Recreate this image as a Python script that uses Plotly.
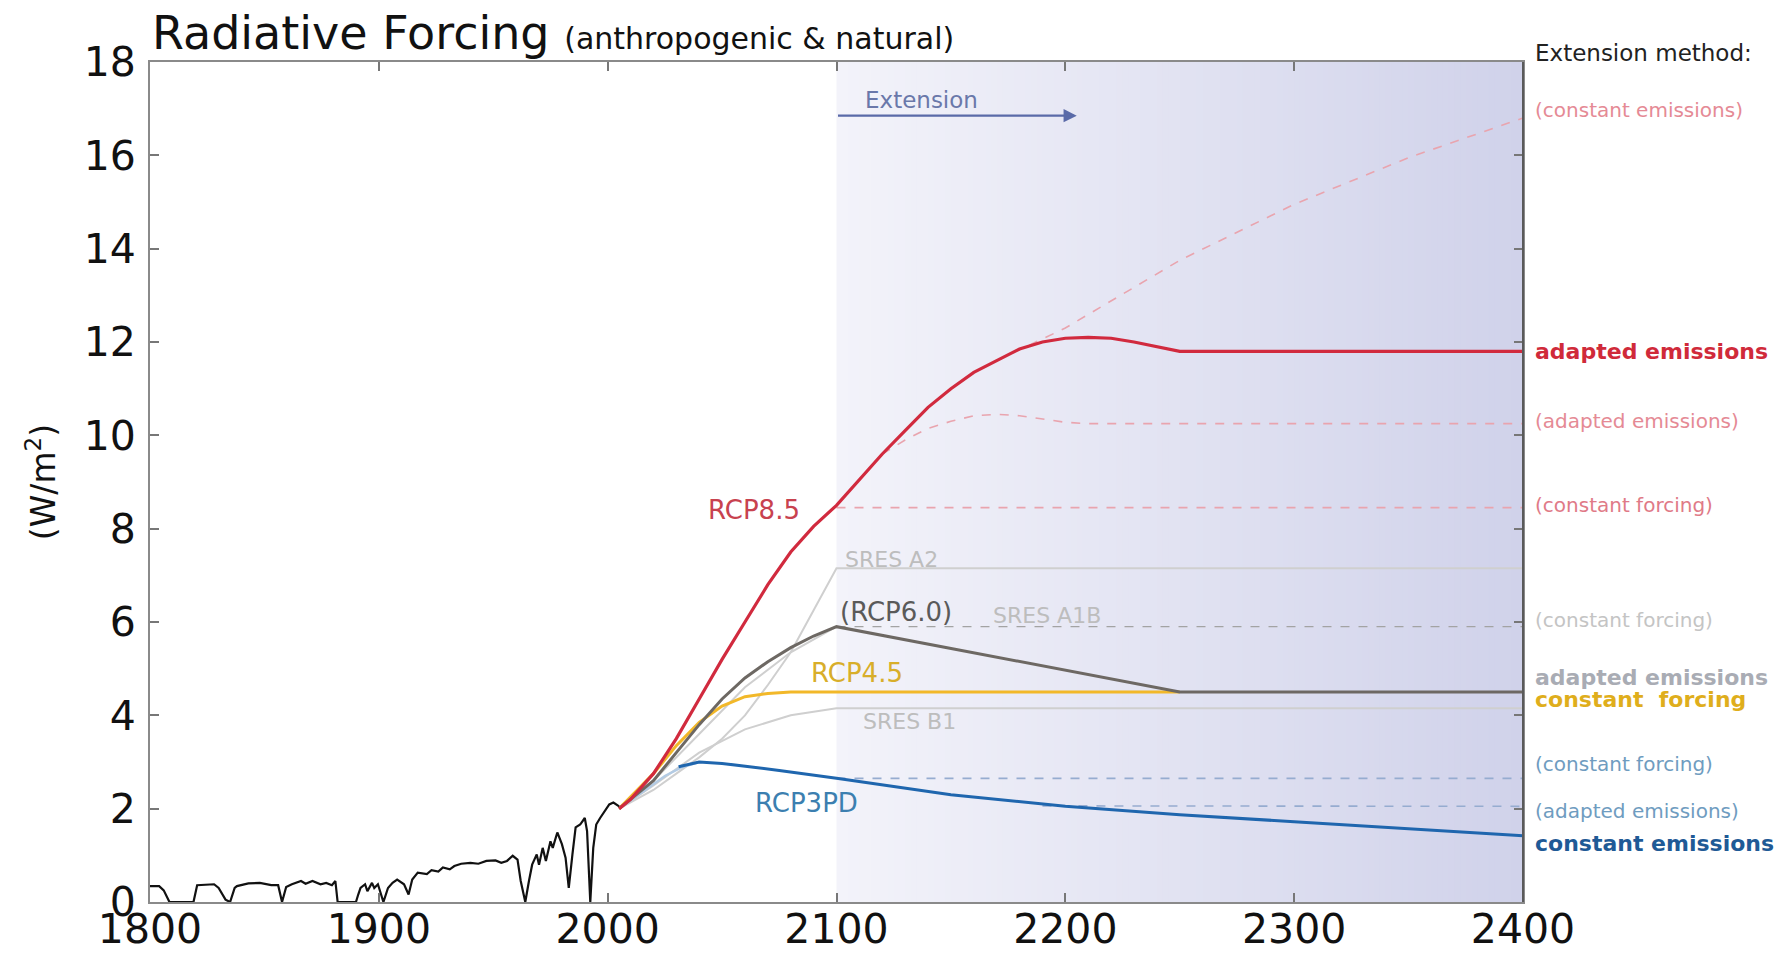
import plotly.graph_objects as go

# ---------------- data ----------------
hist_years = [1800, 1804, 1806, 1808.5, 1819, 1820.6, 1828, 1830, 1833, 1835, 1837, 1838, 1843, 1848, 1853,
              1856, 1857.7, 1859.5, 1862, 1866, 1868, 1871, 1874.5, 1877, 1879.5, 1881, 1882, 1890, 1891,
              1892, 1894, 1895, 1897, 1898, 1899.6, 1901, 1902, 1904, 1906, 1908, 1911, 1913, 1914.6, 1917,
              1921, 1923, 1926, 1928, 1931, 1933, 1936, 1940, 1943.5, 1947, 1951, 1953.5, 1956, 1958.5,
              1960.6, 1962, 1964, 1965.6, 1967, 1969, 1970, 1971.6, 1973, 1975, 1976, 1978, 1980, 1981.6,
              1983, 1984.6, 1986, 1988, 1990, 1991, 1992.4, 1993.7, 1995, 1996.7, 1998.7, 2000.7, 2002.5,
              2005]
hist_values = [0.34, 0.34, 0.25, 0.0, 0.0, 0.36, 0.38, 0.3, 0.05, 0.0, 0.3, 0.34, 0.4, 0.41, 0.36,
               0.36, 0.0, 0.32, 0.38, 0.45, 0.39, 0.45, 0.38, 0.41, 0.36, 0.45, 0.0, 0.0, 0.16,
               0.3, 0.38, 0.23, 0.41, 0.3, 0.38, 0.16, 0.0, 0.3, 0.41, 0.48, 0.38, 0.16, 0.48, 0.63,
               0.6, 0.68, 0.65, 0.74, 0.7, 0.77, 0.82, 0.84, 0.82, 0.88, 0.89, 0.84, 0.88, 0.99,
               0.91, 0.45, 0.0, 0.45, 0.8, 1.02, 0.8, 1.16, 0.88, 1.3, 1.16, 1.49, 1.24, 0.95,
               0.3, 1.02, 1.6, 1.66, 1.8, 1.52, 0.0, 1.16, 1.66, 1.8, 1.95, 2.09, 2.13, 2.05]

rcp85_years = [2005, 2010, 2020, 2030, 2040, 2050, 2060, 2070, 2080, 2090, 2100, 2110, 2120, 2130, 2140,
               2150, 2160, 2170, 2180, 2190, 2200, 2210, 2220, 2230, 2240, 2250, 2400]
rcp85 = [2.0, 2.2, 2.75, 3.5, 4.35, 5.2, 6.0, 6.8, 7.5, 8.05, 8.5, 9.05, 9.6, 10.1, 10.6,
         11.0, 11.35, 11.6, 11.85, 12.0, 12.08, 12.1, 12.08, 12.0, 11.9, 11.8, 11.8]
rcp85_ce_years = [2170, 2200, 2250, 2300, 2350, 2400]
rcp85_ce = [11.6, 12.3, 13.75, 14.95, 15.95, 16.8]
rcp85_ae_years = [2120, 2130, 2140, 2150, 2160, 2170, 2180, 2190, 2200, 2210, 2400]
rcp85_ae = [9.6, 9.9, 10.15, 10.3, 10.42, 10.45, 10.42, 10.35, 10.28, 10.25, 10.25]
rcp85_cf_years = [2100, 2400]
rcp85_cf = [8.45, 8.45]

sres_a2_years = [2005, 2020, 2030, 2040, 2050, 2060, 2070, 2080, 2090, 2100, 2400]
sres_a2 = [2.0, 2.4, 2.75, 3.1, 3.5, 4.0, 4.65, 5.35, 6.25, 7.15, 7.15]
sres_a1b_years = [2005, 2020, 2040, 2060, 2080, 2100]
sres_a1b = [2.0, 2.6, 3.6, 4.6, 5.35, 5.9]
sres_a1b_cf_years = [2100, 2400]
sres_a1b_cf = [5.9, 5.9]
sres_b1_years = [2005, 2020, 2040, 2060, 2080, 2100, 2400]
sres_b1 = [2.0, 2.5, 3.2, 3.7, 4.0, 4.15, 4.15]

rcp60_years = [2005, 2020, 2030, 2040, 2050, 2060, 2070, 2080, 2090, 2100, 2250, 2400]
rcp60 = [2.0, 2.6, 3.2, 3.8, 4.35, 4.8, 5.15, 5.45, 5.7, 5.9, 4.5, 4.5]
rcp45_years = [2005, 2020, 2030, 2040, 2050, 2060, 2070, 2080, 2100, 2250]
rcp45 = [2.0, 2.75, 3.35, 3.85, 4.2, 4.4, 4.47, 4.5, 4.5, 4.5]

rcp3pd_early_years = [2005, 2015, 2025, 2032, 2040]
rcp3pd_early = [2.0, 2.35, 2.7, 2.88, 3.0]
rcp3pd_years = [2031, 2040, 2050, 2075, 2100, 2150, 2200, 2250, 2300, 2350, 2400]
rcp3pd = [2.9, 3.0, 2.97, 2.82, 2.65, 2.3, 2.05, 1.87, 1.72, 1.57, 1.42]
rcp3pd_cf_years = [2100, 2400]
rcp3pd_cf = [2.65, 2.65]
rcp3pd_ae_years = [2190, 2400]
rcp3pd_ae = [2.06, 2.05]

x_ticks = [1800, 1900, 2000, 2100, 2200, 2300, 2400]
y_ticks = [0, 2, 4, 6, 8, 10, 12, 14, 16, 18]

# in-plot labels: (text, year, value, color, size)
curve_labels = [
    ("RCP8.5", 2064, 8.4, "#c8424f", 26),
    ("SRES A2", 2124, 7.33, "#bdbdbd", 22),
    ("(RCP6.0)", 2126, 6.22, "#5a5a5a", 26),
    ("SRES A1B", 2192, 6.15, "#bdbdbd", 22),
    ("RCP4.5", 2109, 4.9, "#d8ae2a", 26),
    ("SRES B1", 2132, 3.86, "#bdbdbd", 22),
    ("RCP3PD", 2087, 2.13, "#3c7fb0", 26),
]
# right-hand "Extension method" labels: (text, value, color, bold)
method_labels = [
    ("(constant emissions)", 16.97, "#e58a95", False),
    ("adapted emissions", 11.8, "#d02a3a", True),
    ("(adapted emissions)", 10.3, "#e58a95", False),
    ("(constant forcing)", 8.5, "#e07a87", False),
    ("(constant forcing)", 6.04, "#c4c4c4", False),
    ("adapted emissions", 4.82, "#a9acb4", True),
    ("constant  forcing", 4.33, "#dfae1c", True),
    ("(constant forcing)", 2.96, "#6f9cc0", False),
    ("(adapted emissions)", 1.96, "#6f9cc0", False),
    ("constant emissions", 1.25, "#1f5a96", True),
]

FONT = "DejaVu Sans"

# ---------------- figure ----------------
fig = go.Figure()

# extension-period gradient background (overlapping strips, no gaps)
n_strips = 120
x0, x1 = 2100, 2400
c0, c1 = (243, 243, 250), (208, 210, 234)
for i in range(n_strips):
    t = i / (n_strips - 1)
    col = tuple(round(c0[k] + (c1[k] - c0[k]) * t) for k in range(3))
    fig.add_shape(type="rect", xref="x", yref="y",
                  x0=x0 + (x1 - x0) * i / n_strips, x1=x1,
                  y0=0, y1=18, fillcolor="rgb(%d,%d,%d)" % col, line=dict(width=0), layer="below")
# darker right frame edge
fig.add_shape(type="line", xref="paper", yref="paper", x0=1, x1=1, y0=0, y1=1,
              line=dict(color="#5a5a5a", width=2), layer="above")


def add_line(x, y, color, width, dash="solid"):
    fig.add_trace(go.Scatter(x=x, y=y, mode="lines", showlegend=False, hoverinfo="skip",
                             line=dict(color=color, width=width, dash=dash)))


# light SRES lines
add_line(sres_a2_years, sres_a2, "#cfcfcf", 2)
add_line(sres_b1_years, sres_b1, "#cfcfcf", 2)
add_line(sres_a1b_years, sres_a1b, "#cfcfcf", 2)
add_line(rcp3pd_early_years, rcp3pd_early, "#b3cbe4", 2.4)
# dashed extensions
add_line(rcp85_ce_years, rcp85_ce, "#e9a4ae", 1.6, "dash")
add_line(rcp85_ae_years, rcp85_ae, "#e9a4ae", 1.6, "dash")
add_line(rcp85_cf_years, rcp85_cf, "#e9a4ae", 1.6, "dash")
add_line(sres_a1b_cf_years, sres_a1b_cf, "#a3a3a3", 1.4, "dash")
add_line(rcp3pd_cf_years, rcp3pd_cf, "#96acd0", 1.6, "dash")
add_line(rcp3pd_ae_years, rcp3pd_ae, "#96acd0", 1.6, "dash")
# main RCP lines
add_line(rcp45_years, rcp45, "#f2b829", 3)
add_line(rcp60_years, rcp60, "#6d6863", 3)
add_line(rcp3pd_years, rcp3pd, "#1f66ae", 3)
add_line(rcp85_years, rcp85, "#d12a3e", 3.2)
# historical
add_line(hist_years, hist_values, "#111111", 2.2)

for text, xv, yv, col, sz in curve_labels:
    fig.add_annotation(x=xv, y=yv, xref="x", yref="y", text=text, showarrow=False,
                       font=dict(family=FONT, size=sz, color=col))

# right side: x in paper coords just right of the plot, y in data coords
x_right = 1.007
fig.add_annotation(x=x_right, y=18.2 / 18, xref="paper", yref="paper", text="Extension method:",
                   showarrow=False, xanchor="left", yanchor="middle",
                   font=dict(family=FONT, size=23, color="#222222"))
for text, yv, col, bold in method_labels:
    fig.add_annotation(x=x_right, y=yv, xref="paper", yref="y",
                       text=("<b>%s</b>" % text) if bold else text,
                       showarrow=False, xanchor="left", yanchor="middle",
                       font=dict(family=FONT, size=22 if bold else 20, color=col))

# extension arrow
fig.add_annotation(x=2205, y=16.85, ax=2100, ay=16.85, xref="x", yref="y", axref="x", ayref="y",
                   text="", showarrow=True, arrowhead=2, arrowsize=1.2, arrowwidth=2.2,
                   arrowcolor="#5a6aa8")
fig.add_annotation(x=2137, y=17.18, xref="x", yref="y", text="Extension", showarrow=False,
                   font=dict(family=FONT, size=23, color="#6a78aa"))

# title
fig.add_annotation(x=0, y=1.034, xref="paper", yref="paper", xanchor="left", yanchor="middle",
                   showarrow=False,
                   text="Radiative Forcing <span style='font-size:30px'>(anthropogenic &amp; natural)</span>",
                   font=dict(family=FONT, size=46, color="#111111"))

fig.update_xaxes(range=[1800, 2400], tickvals=x_ticks, ticktext=[str(v) for v in x_ticks],
                 showgrid=False, zeroline=False, showline=True, linecolor="#8a8a8a", linewidth=2,
                 mirror="ticks", ticks="inside", ticklen=9, tickwidth=2, tickcolor="#777777",
                 automargin=False, ticklabelstandoff=-10,
                 tickfont=dict(family=FONT, size=41, color="#111111"))
fig.update_yaxes(range=[0, 18], tickvals=y_ticks, ticktext=[str(v) for v in y_ticks],
                 showgrid=False, zeroline=False, showline=True, linecolor="#8a8a8a", linewidth=2,
                 mirror="ticks", ticks="inside", ticklen=9, tickwidth=2, tickcolor="#777777",
                 automargin=False, ticklabelstandoff=4,
                 tickfont=dict(family=FONT, size=41, color="#111111"),
                 title=dict(text="(W/m<sup>2</sup>)", font=dict(family=FONT, size=33, color="#111111"),
                            standoff=18))

fig.update_layout(width=1783, height=945, plot_bgcolor="white", paper_bgcolor="white",
                  margin=dict(l=142, r=268, t=54, b=51), showlegend=False)

fig.write_html("out.html")
